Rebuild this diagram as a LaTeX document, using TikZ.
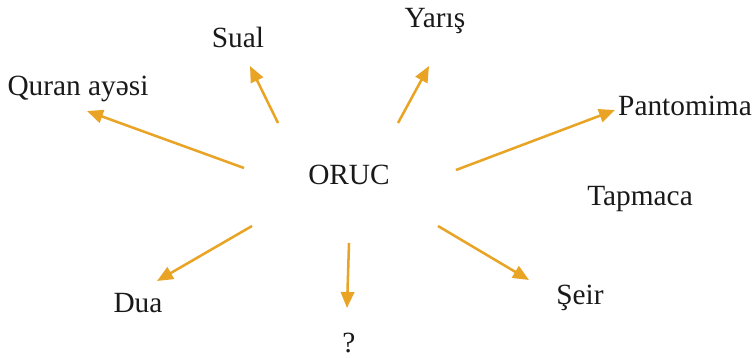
\documentclass[tikz,border=0pt]{standalone}
\usepackage{fontspec}
\setmainfont{Liberation Serif}
\usetikzlibrary{arrows.meta}
\definecolor{arrowgold}{HTML}{E9A425}

\begin{document}
\begin{tikzpicture}[
    x=0.75pt, y=-0.75pt,
    word/.style = {inner sep=0pt, font=\fontsize{22}{26}\selectfont, text=black!90},
    arrow/.style = {draw=arrowgold, line width=1.9pt, -{Triangle[length=12pt,width=10pt]}}
]
\useasboundingbox (0,0) rectangle (753,357);

% Centre
\node (oruc) [word] at (349, 175) {ORUC};

% Words round it
\node (sual) [word] at (238, 37) {Sual};
\node (yaris) [word] at (435, 21) {Yarış};
\node (quran) [word] at (78, 89) {Quran ayəsi};
\node (panto) [word] at (685, 106) {Pantomima};
\node (tapmaca) [word] at (640, 199) {Tapmaca};
\node (dua) [word] at (138, 303) {Dua};
\node (sual2) [word] at (349, 343) {?};
\node (seir) [word] at (580, 298) {Şeir};

% Arrow ends
\coordinate (s1) at (244, 168); \coordinate (e1) at (87, 111);
\coordinate (s2) at (278, 123); \coordinate (e2) at (250, 66);
\coordinate (s3) at (398, 123); \coordinate (e3) at (429, 66);
\coordinate (s4) at (456, 170); \coordinate (e4) at (615, 110);
\coordinate (s5) at (252, 226); \coordinate (e5) at (157, 281);
\coordinate (s6) at (349, 243); \coordinate (e6) at (347, 308);
\coordinate (s7) at (438, 226); \coordinate (e7) at (529, 280);

% Arrows
\draw [arrow] (s1) -- (e1);
\draw [arrow] (s2) -- (e2);
\draw [arrow] (s3) -- (e3);
\draw [arrow] (s4) -- (e4);
\draw [arrow] (s5) -- (e5);
\draw [arrow] (s6) -- (e6);
\draw [arrow] (s7) -- (e7);

\end{tikzpicture}
\end{document}
